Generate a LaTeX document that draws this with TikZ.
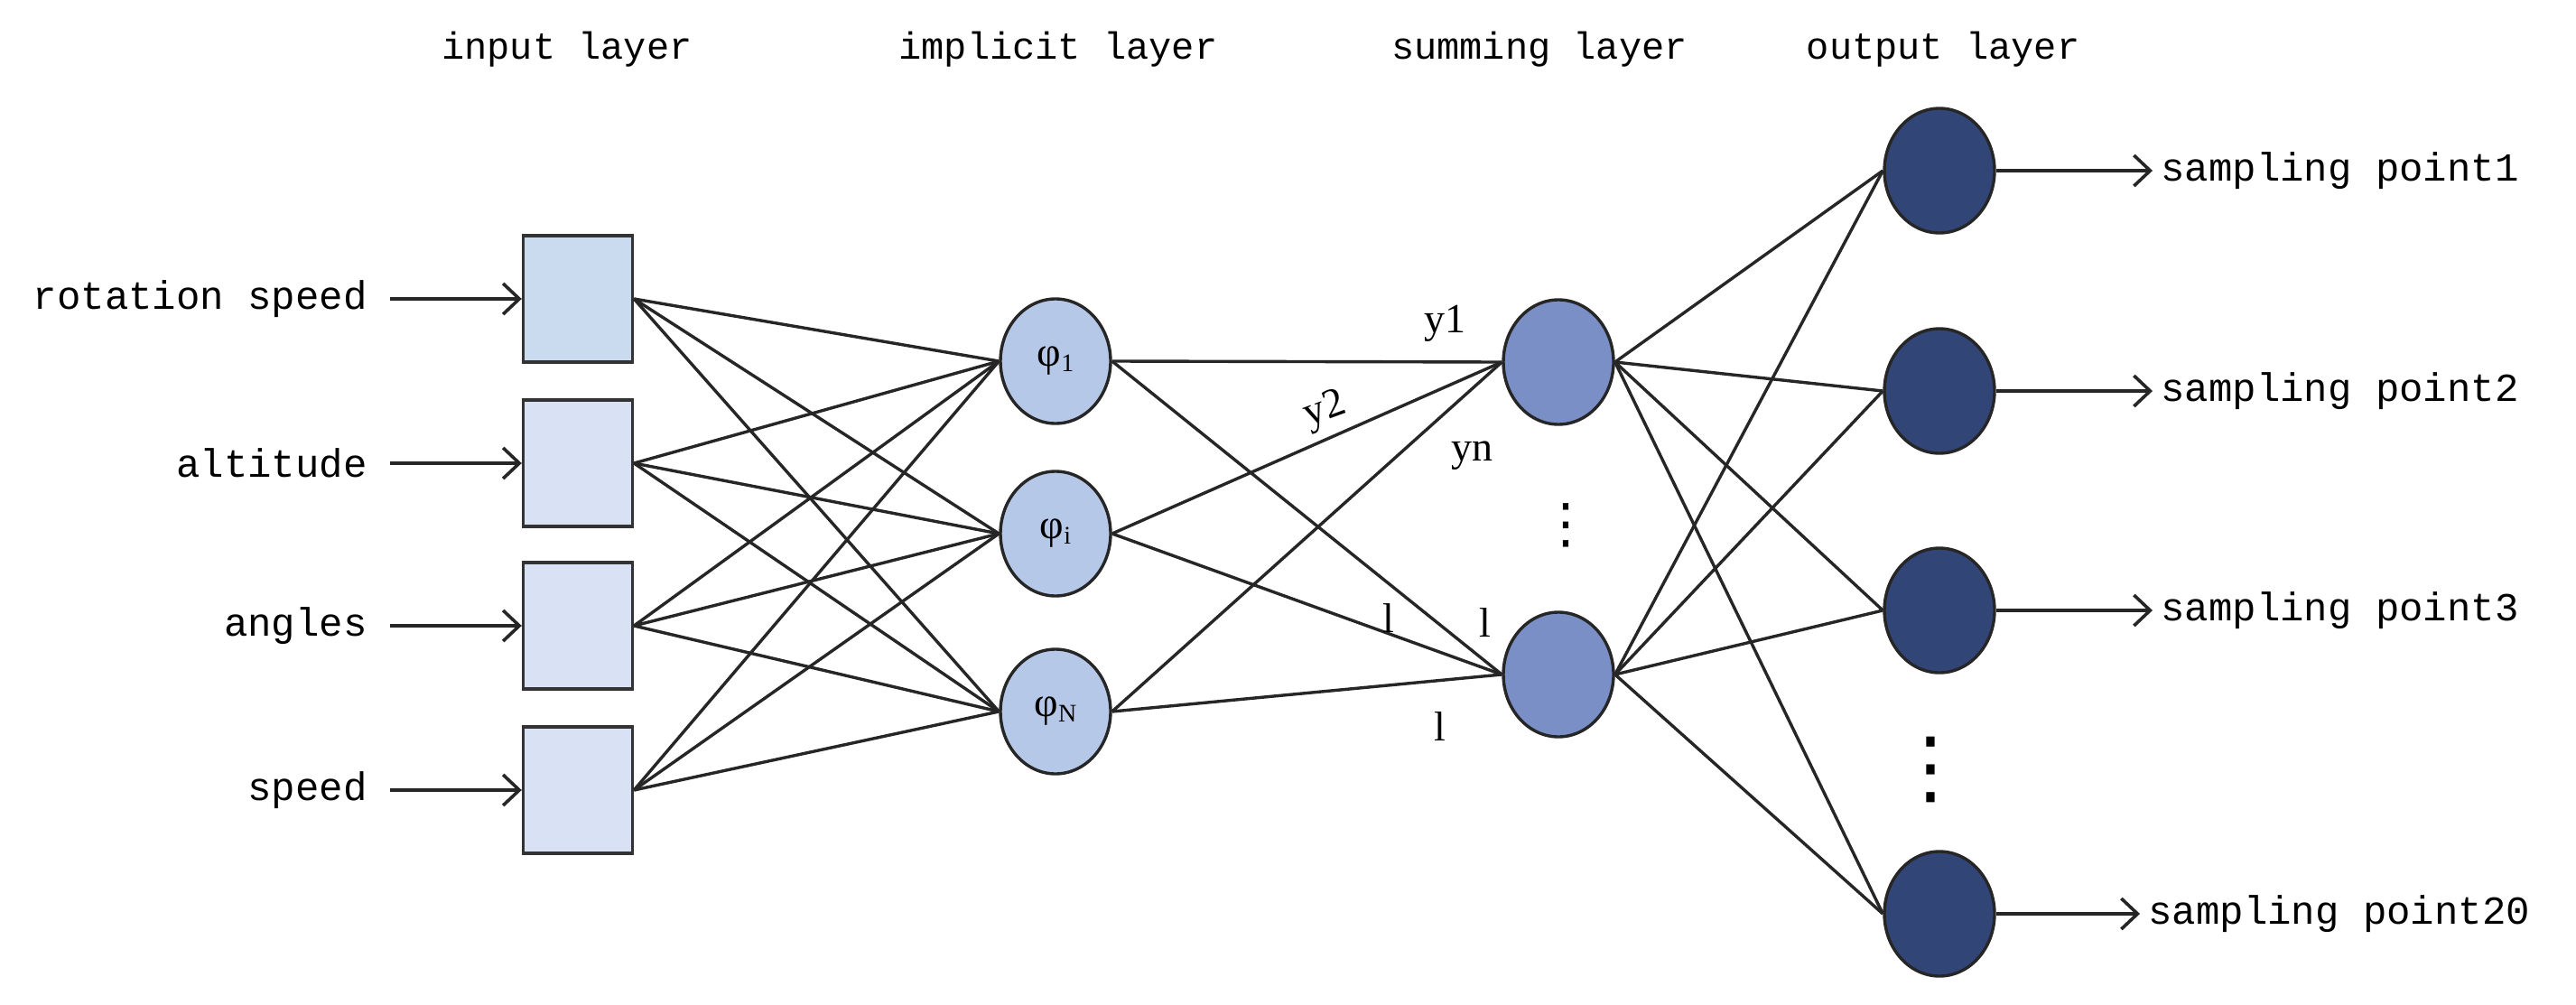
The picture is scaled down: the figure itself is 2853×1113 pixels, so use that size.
\documentclass[tikz,border=0pt]{standalone}
\usepackage{fontspec}
\setmainfont{Liberation Serif}
\newfontfamily\lab{Liberation Mono}
\newfontfamily\dv{DejaVu Sans}
\usetikzlibrary{arrows.meta,shapes.geometric}
\definecolor{inA}{HTML}{CADBEF}
\definecolor{inB}{HTML}{D9E2F4}
\definecolor{hidC}{HTML}{B6C8E8}
\definecolor{sumC}{HTML}{7A8FC6}
\definecolor{outC}{HTML}{314577}
\newcommand{\phisub}[1]{φ\raisebox{-0.25ex}{\fontsize{28}{28}\selectfont #1}}
\begin{document}
\begin{tikzpicture}[x=1pt,y=-1pt,
  edge/.style={line width=3.4pt,black!85},
  arr/.style={line width=3.6pt,black!85,-{Straight Barb[length=18pt,width=34pt,line width=3.6pt]}},
  box/.style={draw=black!80,line width=3.4pt,minimum width=121pt,minimum height=140pt,inner sep=0pt},
  circ/.style={ellipse,draw=black!85,line width=3.4pt,minimum width=122pt,minimum height=138pt,inner sep=0pt},
  txt/.style={font=\lab\fontsize{44}{44}\selectfont},
  head/.style={font=\lab\fontsize{42}{42}\selectfont},
  ser/.style={font=\fontsize{46}{46}\selectfont}]
\useasboundingbox (0,0) rectangle (2853,1113);
% input layer
\node[box,fill=inA] (i1) at (640,331) {};
\node[box,fill=inB] (i2) at (640,513) {};
\node[box,fill=inB] (i3) at (640,693) {};
\node[box,fill=inB] (i4) at (640,875) {};
\node[txt,anchor=east] (t1) at (410,331) {rotation speed};
\node[txt,anchor=east] (t2) at (410,513) {altitude};
\node[txt,anchor=east] (t3) at (410,693) {angles};
\node[txt,anchor=east] (t4) at (410,875) {speed};
\foreach \k in {1,...,4} \draw[arr] (t\k.east) ++(22,0) -- (i\k.west);
% hidden
\node[circ,fill=hidC,ser] (h1) at (1169,400) {\phisub{1}};
\node[circ,fill=hidC,ser] (h2) at (1169,591) {\phisub{i}};
\node[circ,fill=hidC,ser] (h3) at (1169,788) {\phisub{N}};
% summing
\node[circ,fill=sumC] (s1) at (1726,401) {};
\node[circ,fill=sumC] (s2) at (1726,747) {};
% output
\node[circ,fill=outC] (o1) at (2148,189) {};
\node[circ,fill=outC] (o2) at (2148,433) {};
\node[circ,fill=outC] (o3) at (2148,676) {};
\node[circ,fill=outC] (o4) at (2148,1012) {};
\node[txt,anchor=west] (p1) at (2390,189) {sampling point1};
\node[txt,anchor=west] (p2) at (2390,433) {sampling point2};
\node[txt,anchor=west] (p3) at (2390,676) {sampling point3};
\node[txt,anchor=west] (p4) at (2376,1012) {sampling point20};
\foreach \k in {1,...,4} \draw[arr] (o\k.east) -- ([xshift=-6pt]p\k.west);
% edges
\foreach \a in {1,...,4} \foreach \b in {1,2,3} \draw[edge] (i\a.east) -- (h\b.west);
\foreach \a in {1,2,3} \foreach \b in {1,2} \draw[edge] (h\a.east) -- (s\b.west);
\foreach \a in {1,2} \foreach \b in {1,...,4} \draw[edge] (s\a.east) -- (o\b.west);
% labels
\node[ser] (ly1) at (1600,358) {y1};
\node[ser,rotate=20] (ly2) at (1468,455) {y2};
\node[ser] (lyn) at (1630,505) {yn};
\node[ser] (l1) at (1538,685) {l};
\node[ser] (l2) at (1645,690) {l};
\node[ser] (l3) at (1595,805) {l};
\node[font=\dv\fontsize{60}{60}\selectfont] (d1) at (1734,582) {⋮};
\node[font=\dv\fontsize{90}{90}\selectfont] (d2) at (2138,852) {⋮};
% headers
\node[head] (hA) at (628,55) {input layer};
\node[head] (hB) at (1172,55) {implicit layer};
\node[head] (hC) at (1705,55) {summing layer};
\node[head] (hD) at (2152,55) {output layer};
\end{tikzpicture}
\end{document}
